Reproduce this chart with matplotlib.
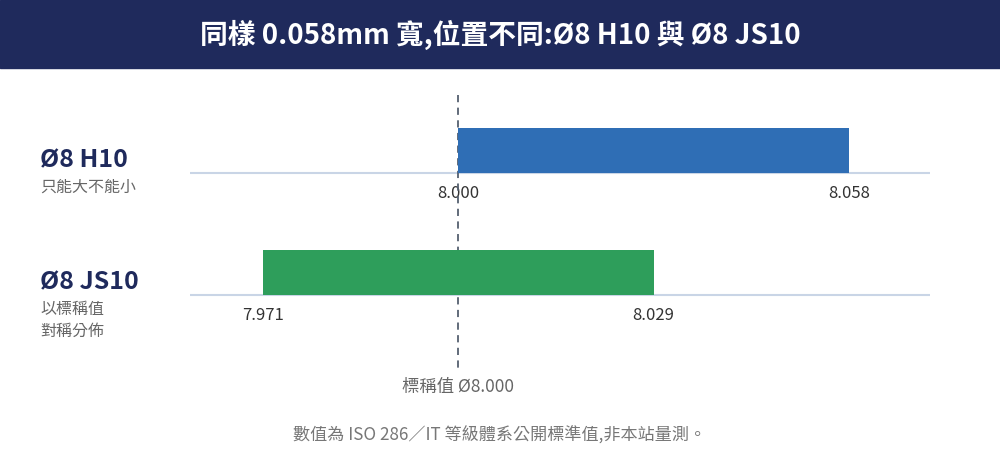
import matplotlib
matplotlib.use("Agg")
import matplotlib.pyplot as plt
from matplotlib.patches import Rectangle

plt.rcParams['font.family'] = ['Noto Sans CJK TC', 'DejaVu Sans']

names = ["Ø8 H10", "Ø8 JS10"]
subs = ["只能大不能小", "以標稱值\n對稱分佈"]
lows = [8.000, 7.971]
highs = [8.058, 8.029]
nominal = 8.000
colors = ["#2f6eb5", "#2e9e5b"]
navy = "#1f2a5c"

W, H = 1000, 450
fig = plt.figure(figsize=(10, 4.5), dpi=100)
fig.patch.set_facecolor("white")
fig.add_artist(Rectangle((0, 1 - 68 / H), 1, 68 / H, transform=fig.transFigure,
                         color=navy, zorder=0))
fig.text(0.5, 1 - 35 / H, "同樣 0.058mm 寬,位置不同:Ø8 H10 與 Ø8 JS10",
         ha="center", va="center", color="white", fontsize=20, fontweight="bold")

ax = fig.add_axes([190 / W, 0, 740 / W, (H - 68) / H])
ax.set_xlim(7.9602, 8.0700)
ax.set_ylim(H, 68)
ax.axis("off")

bar_tops = [128, 250]
bar_h = 45
for i in range(2):
    y0 = bar_tops[i]
    ax.barh(y0 + bar_h / 2, highs[i] - lows[i], left=lows[i], height=bar_h,
            color=colors[i], zorder=4)
    ax.axhline(y0 + bar_h, color="#c9d5e6", lw=1.5, zorder=1)
    for v in (lows[i], highs[i]):
        ax.text(v, y0 + bar_h + 21, f"{v:.3f}", ha="center", va="center",
                fontsize=12, color="#333333")
    fig.text(40 / W, 1 - (y0 + 32) / H, names[i], ha="left", va="center",
             fontsize=18, fontweight="bold", color=navy)
    fig.text(40 / W, 1 - (y0 + 51) / H, subs[i], ha="left", va="top",
             fontsize=11.5, color="#666666", linespacing=1.4)

ax.plot([nominal, nominal], [95, 372], ls=(0, (4, 3)), color="#556070", lw=1.3, zorder=3)
ax.text(nominal, 387, "標稱值 Ø8.000", ha="center", va="center", fontsize=12.5,
        color="#666666")

fig.text(0.5, 1 - 435 / H, "數值為 ISO 286／IT 等級體系公開標準值,非本站量測。",
         ha="center", va="center", fontsize=12.3, color="#777777")

fig.savefig("out.png", dpi=100)
